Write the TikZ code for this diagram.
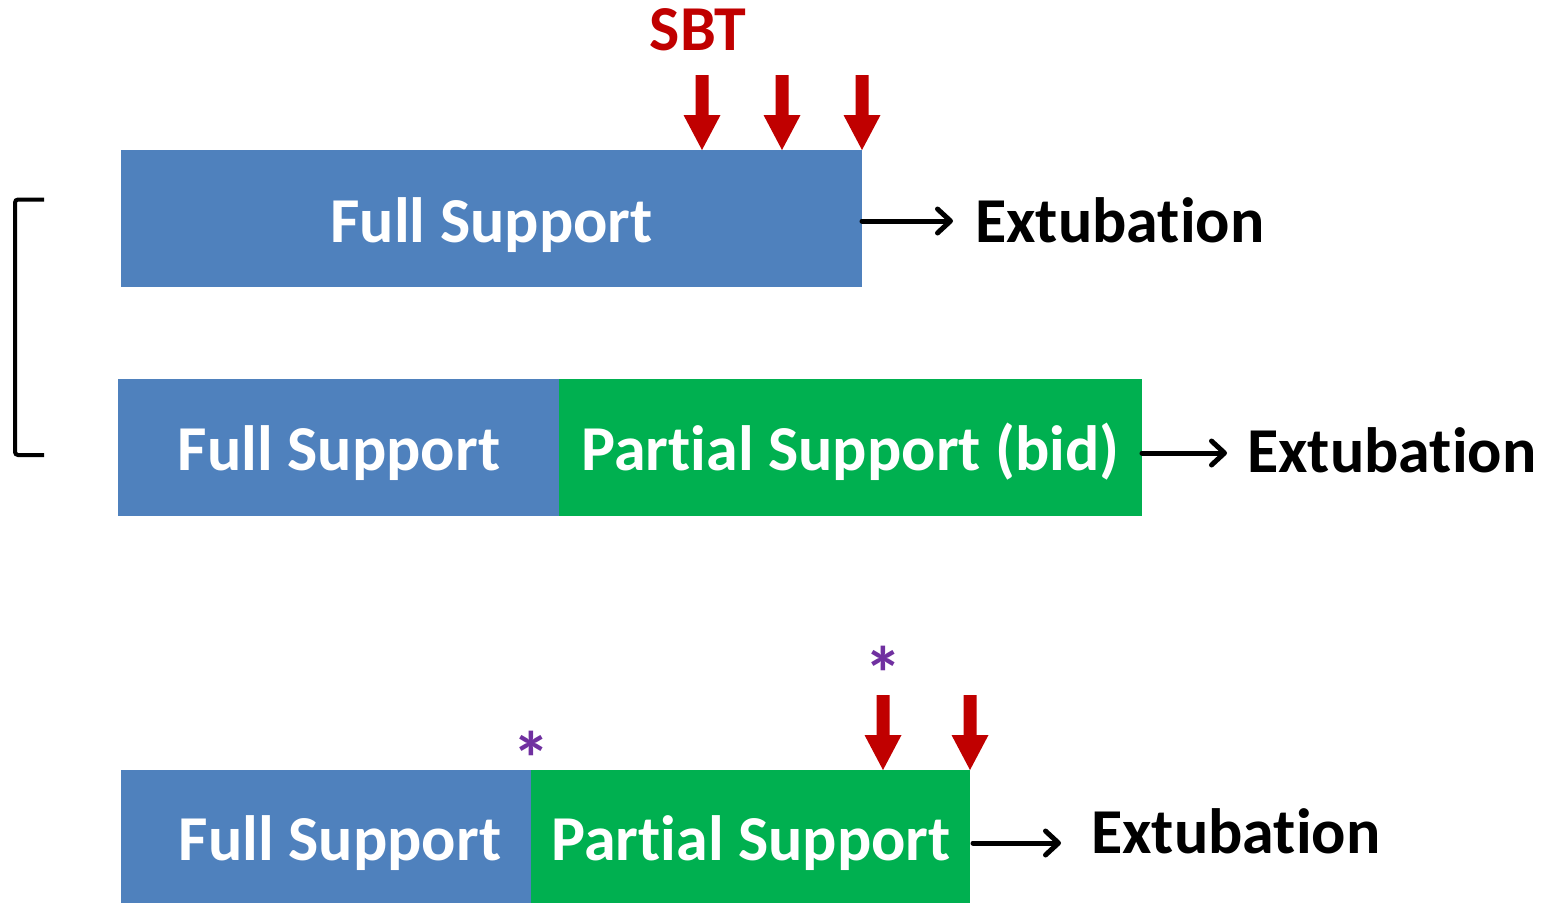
\documentclass[tikz,border=0pt]{standalone}
\usepackage{fontspec}
\setmainfont{Carlito}[Ligatures={NoCommon,NoRare}]
\usetikzlibrary{arrows.meta}
\definecolor{fsblue}{HTML}{4F81BD}
\definecolor{psgreen}{HTML}{00B050}
\definecolor{sbtred}{HTML}{C00000}
\definecolor{starpurple}{HTML}{7030A0}
\tikzset{
  bar/.style={anchor=north west, inner sep=0pt, outer sep=0pt, draw=none, minimum height=137pt},
  fullbar/.style={bar, fill=fsblue},
  partbar/.style={bar, fill=psgreen},
  barlabel/.style={anchor=base, inner sep=0pt, text=white, font=\fontsize{64}{72}\selectfont\bfseries},
  outcome/.style={anchor=base west, inner sep=0pt, text=black, font=\fontsize{64}{72}\selectfont\bfseries},
  flow/.style={line width=5pt, line cap=round, -{Straight Barb[length=13pt,width=24pt,round]}},
  star/.style={anchor=base, inner sep=0pt, text=starpurple, font=\fontsize{76}{80}\selectfont\bfseries},
  sbtarrow/.pic={\fill[sbtred] (-6.5,-75) -- (6.5,-75) -- (6.5,-35) -- (18.5,-35) -- (0,0)
      -- (-18.5,-35) -- (-6.5,-35) -- cycle;}
}
\begin{document}
\begin{tikzpicture}[x=1pt,y=-1pt]
\useasboundingbox (0,0) rectangle (1542,903);

% first strategy: full support only, with daily SBTs
\node[fullbar, minimum width=741pt] (fs1) at (121,150) {};
\node[barlabel] (fs1t) at (491.5,242) {Full Support};
\node[sbtred, anchor=base, inner sep=0pt, font=\fontsize{64}{72}\selectfont\bfseries] (sbt) at (698,50) {SBT};
\pic at (702,150) {sbtarrow};
\pic at (782,150) {sbtarrow};
\pic at (862,150) {sbtarrow};
\node[outcome] (ext1) at (975,242) {Extubation};
\draw[flow, shorten >=22pt] ([yshift=-2.5pt]fs1.east) -- ([yshift=-2.5pt]fs1.east -| ext1.west);

% second strategy: full support, then partial support
\node[fullbar, minimum width=441pt] (fs2) at (118,379) {};
\node[partbar, minimum width=583pt] (ps2) at (559,379) {};
\node[barlabel] (fs2t) at (339,470) {Full Support};
\node[barlabel] (ps2t) at (850.5,470) {Partial Support (bid)};
\node[outcome] (ext2) at (1247,472) {Extubation};
\draw[flow, shorten >=20pt] ([yshift=-5.5pt]ps2.east) -- ([yshift=-5.5pt]ps2.east -| ext2.west);

% bracket grouping the first two strategies
\draw[line width=4pt, rounded corners=3pt] (44,199.5) -- (15,199.5) -- (15,455) -- (44,455);

% third strategy: full support, then partial support with SBTs
\node[fullbar, minimum width=410pt, minimum height=133pt] (fs3) at (121,770) {};
\node[partbar, minimum width=439pt, minimum height=133pt] (ps3) at (531,770) {};
\node[barlabel] (fs3t) at (340,860) {Full Support};
\node[barlabel] (ps3t) at (751,860) {Partial Support};
\node[star] (star1) at (531,785) {*};
\node[star] (star2) at (883,700) {*};
\pic at (883,770) {sbtarrow};
\pic at (970,770) {sbtarrow};
\node[outcome] (ext3) at (1091,853) {Extubation};
\draw[flow, shorten >=30pt] ([xshift=3pt,yshift=-6.5pt]ps3.east) -- ([yshift=-6.5pt]ps3.east -| ext3.west);
\end{tikzpicture}
\end{document}
